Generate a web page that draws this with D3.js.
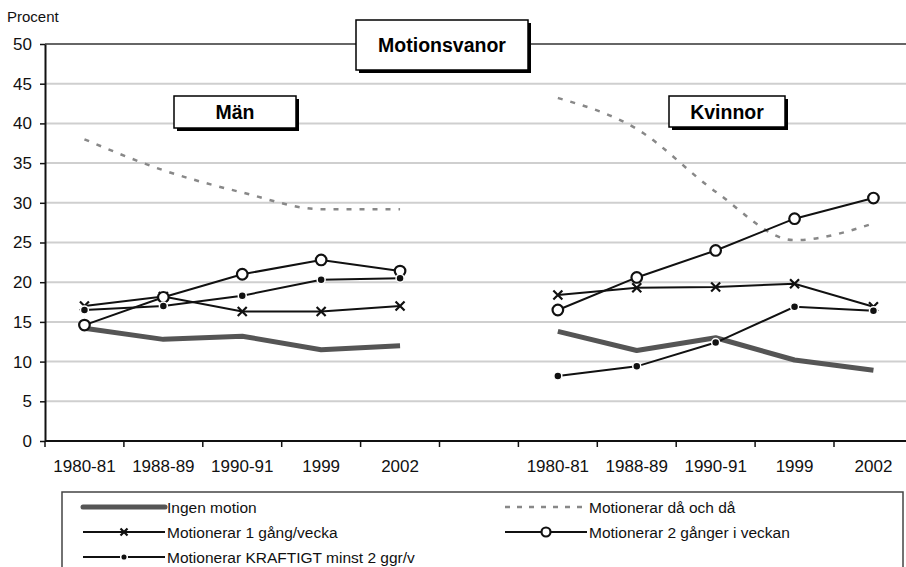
<!DOCTYPE html>
<html>
<head>
<meta charset="utf-8">
<title>Motionsvanor</title>
<script src="https://cdnjs.cloudflare.com/ajax/libs/d3/7.8.5/d3.min.js"></script>
<style>
  body { margin: 0; background: #fff; }
  svg { display: block; font-family: "Liberation Sans", Arial, sans-serif; }
</style>
</head>
<body>
<div id="chart"></div>
<script>
// categories: 5 periods for men, an empty slot, 5 periods for women
var categories = ["1980-81", "1988-89", "1990-91", "1999", "2002", "",
                  "1980-81", "1988-89", "1990-91", "1999", "2002"];
var menIdx = [0, 1, 2, 3, 4];
var womenIdx = [6, 7, 8, 9, 10];

var seriesNames = ["Ingen motion", "Motionerar då och då", "Motionerar 1 gång/vecka",
                   "Motionerar 2 gånger i veckan", "Motionerar KRAFTIGT minst 2 ggr/v"];

// men
var menIngen    = [14.2, 12.8, 13.2, 11.5, 12.0];
var menDaOchDa  = [38.0, 34.1, 31.3, 29.2, 29.2];
var menEnGang   = [17.0, 18.2, 16.3, 16.3, 17.0];
var menTvaGang  = [14.6, 18.1, 21.0, 22.8, 21.4];
var menKraftigt = [16.5, 17.0, 18.3, 20.3, 20.5];

// women
var kvIngen    = [13.8, 11.4, 13.0, 10.2, 8.9];
var kvDaOchDa  = [43.2, 39.3, 31.4, 25.3, 27.4];
var kvEnGang   = [18.4, 19.3, 19.4, 19.8, 16.9];
var kvTvaGang  = [16.5, 20.6, 24.0, 28.0, 30.6];
var kvKraftigt = [8.2, 9.4, 12.4, 16.9, 16.4];

var yTicks = [0, 5, 10, 15, 20, 25, 30, 35, 40, 45, 50];

var width = 906, height = 567;
var svg = d3.select("#chart").append("svg")
    .attr("width", width).attr("height", height);

var x = d3.scaleBand()
    .domain(d3.range(categories.length))
    .range([45, 45 + 11 * 78.9]);
var y = d3.scaleLinear().domain([0, 50]).range([441, 44]);

// gridlines
svg.append("g").selectAll("line")
  .data(yTicks.filter(function(d) { return d > 0 && d < 50; }))
  .enter().append("line")
    .attr("x1", 45).attr("x2", width)
    .attr("y1", function(d) { return y(d); })
    .attr("y2", function(d) { return y(d); })
    .attr("stroke", "#cfcfcf").attr("stroke-width", 2);

// top border of plot
svg.append("line")
  .attr("x1", 45).attr("x2", width).attr("y1", y(50)).attr("y2", y(50))
  .attr("stroke", "#666").attr("stroke-width", 2);

// y axis
var yAxis = svg.append("g")
  .attr("transform", "translate(45,0)")
  .call(d3.axisLeft(y).tickValues(yTicks).tickSize(5).tickSizeOuter(0));
yAxis.select(".domain").attr("stroke", "#111").attr("stroke-width", 2);
yAxis.selectAll(".tick line").attr("stroke", "#111").attr("stroke-width", 1.5);
yAxis.selectAll(".tick text")
  .attr("x", -13).attr("font-size", 17).attr("fill", "#111")
  .attr("font-family", "Liberation Sans, Arial, sans-serif");

// x axis line and ticks at band edges
svg.append("line")
  .attr("x1", 45).attr("x2", width).attr("y1", y(0)).attr("y2", y(0))
  .attr("stroke", "#111").attr("stroke-width", 2);
svg.append("g").selectAll("line")
  .data(d3.range(categories.length + 1))
  .enter().append("line")
    .attr("x1", function(i) { return i < categories.length ? x(i) : x(i - 1) + x.bandwidth(); })
    .attr("x2", function(i) { return i < categories.length ? x(i) : x(i - 1) + x.bandwidth(); })
    .attr("y1", y(0)).attr("y2", y(0) + 6)
    .attr("stroke", "#111").attr("stroke-width", 1.5);

var xAxis = svg.append("g")
  .attr("transform", "translate(0," + y(0) + ")")
  .call(d3.axisBottom(x).tickSize(0).tickFormat(function(i) { return categories[i]; }));
xAxis.select(".domain").remove();
xAxis.selectAll(".tick text")
  .attr("dy", 0).attr("y", 31).attr("font-size", 17).attr("fill", "#111")
  .attr("font-family", "Liberation Sans, Arial, sans-serif");

svg.append("text").attr("x", 7).attr("y", 22)
  .attr("font-size", 15).attr("fill", "#111").text("Procent");

function cx(i) { return x(i) + x.bandwidth() / 2; }

var line = d3.line()
  .x(function(d) { return cx(d.i); })
  .y(function(d) { return y(d.v); });
var smooth = d3.line()
  .x(function(d) { return cx(d.i); })
  .y(function(d) { return y(d.v); })
  .curve(d3.curveMonotoneX);

function pts(idx, vals) {
  return vals.map(function(v, k) { return { i: idx[k], v: v }; });
}

var groups = [
  { idx: menIdx, data: [menIngen, menDaOchDa, menEnGang, menTvaGang, menKraftigt] },
  { idx: womenIdx, data: [kvIngen, kvDaOchDa, kvEnGang, kvTvaGang, kvKraftigt] }
];

function drawX(g, px, py, s) {
  g.append("path")
    .attr("d", "M" + (px - s) + "," + (py - s) + "L" + (px + s) + "," + (py + s) +
               "M" + (px - s) + "," + (py + s) + "L" + (px + s) + "," + (py - s))
    .attr("stroke", "#111").attr("stroke-width", 2.2).attr("fill", "none");
}
function drawCircle(g, px, py, r) {
  g.append("circle").attr("cx", px).attr("cy", py).attr("r", r)
    .attr("fill", "#fff").attr("stroke", "#111").attr("stroke-width", 2.2);
}
function drawDot(g, px, py, r) {
  g.append("circle").attr("cx", px).attr("cy", py).attr("r", r)
    .attr("fill", "#111").attr("stroke", "#fff").attr("stroke-width", 1.5);
}

var plot = svg.append("g");
groups.forEach(function(gr) {
  var p;
  // Ingen motion
  plot.append("path").datum(pts(gr.idx, gr.data[0]))
    .attr("d", line).attr("fill", "none")
    .attr("stroke", "#555").attr("stroke-width", 5).attr("stroke-linejoin", "round");
  // då och då
  plot.append("path").datum(pts(gr.idx, gr.data[1]))
    .attr("d", smooth).attr("fill", "none")
    .attr("stroke", "#888").attr("stroke-width", 2.5).attr("stroke-dasharray", "5,8");
  // 1 gång
  p = pts(gr.idx, gr.data[2]);
  plot.append("path").datum(p).attr("d", line).attr("fill", "none")
    .attr("stroke", "#111").attr("stroke-width", 2);
  p.forEach(function(d) { drawX(plot, cx(d.i), y(d.v), 4.5); });
  // 2 gånger
  p = pts(gr.idx, gr.data[3]);
  plot.append("path").datum(p).attr("d", line).attr("fill", "none")
    .attr("stroke", "#111").attr("stroke-width", 2);
  p.forEach(function(d) { drawCircle(plot, cx(d.i), y(d.v), 5.3); });
  // kraftigt
  p = pts(gr.idx, gr.data[4]);
  plot.append("path").datum(p).attr("d", line).attr("fill", "none")
    .attr("stroke", "#111").attr("stroke-width", 2);
  p.forEach(function(d) { drawDot(plot, cx(d.i), y(d.v), 4); });
});

// boxed labels with shadow
function box(x0, y0, w, h, label) {
  var g = svg.append("g");
  g.append("rect").attr("x", x0 + 3).attr("y", y0 + 3).attr("width", w).attr("height", h)
    .attr("fill", "#000");
  g.append("rect").attr("x", x0).attr("y", y0).attr("width", w).attr("height", h)
    .attr("fill", "#fff").attr("stroke", "#000").attr("stroke-width", 1.5);
  g.append("text").attr("x", x0 + w / 2).attr("y", y0 + h / 2)
    .attr("dy", "0.36em").attr("text-anchor", "middle")
    .attr("font-size", 19.5).attr("font-weight", "bold").attr("fill", "#000")
    .text(label);
}
box(356, 20, 172, 50, "Motionsvanor");
box(174, 96, 122, 32, "Män");
box(669, 96, 116, 31, "Kvinnor");

// legend
var leg = svg.append("g");
leg.append("rect").attr("x", 62).attr("y", 492).attr("width", 841).attr("height", 100)
  .attr("fill", "#fff").attr("stroke", "#444").attr("stroke-width", 1.5);

var legItems = [
  { name: seriesNames[0], col: 0, row: 0 },
  { name: seriesNames[1], col: 1, row: 0 },
  { name: seriesNames[2], col: 0, row: 1 },
  { name: seriesNames[3], col: 1, row: 1 },
  { name: seriesNames[4], col: 0, row: 2 }
];
legItems.forEach(function(it, k) {
  var x0 = it.col === 0 ? 83 : 505;
  var yy = 507 + it.row * 25;
  var l = leg.append("line").attr("x1", x0).attr("x2", x0 + 82).attr("y1", yy).attr("y2", yy)
    .attr("fill", "none");
  if (k === 0) l.attr("stroke", "#555").attr("stroke-width", 5).attr("stroke-linecap", "round");
  else if (k === 1) l.attr("stroke", "#888").attr("stroke-width", 2.5).attr("stroke-dasharray", "5,7");
  else l.attr("stroke", "#111").attr("stroke-width", 2);
  if (k === 2) drawX(leg, x0 + 41, yy, 3.5);
  if (k === 3) drawCircle(leg, x0 + 41, yy, 4.5);
  if (k === 4) drawDot(leg, x0 + 41, yy, 3.3);
  leg.append("text").attr("x", x0 + 84).attr("y", yy).attr("dy", "0.36em")
    .attr("font-size", 15.5).attr("fill", "#111").text(it.name);
});
</script>
</body>
</html>
